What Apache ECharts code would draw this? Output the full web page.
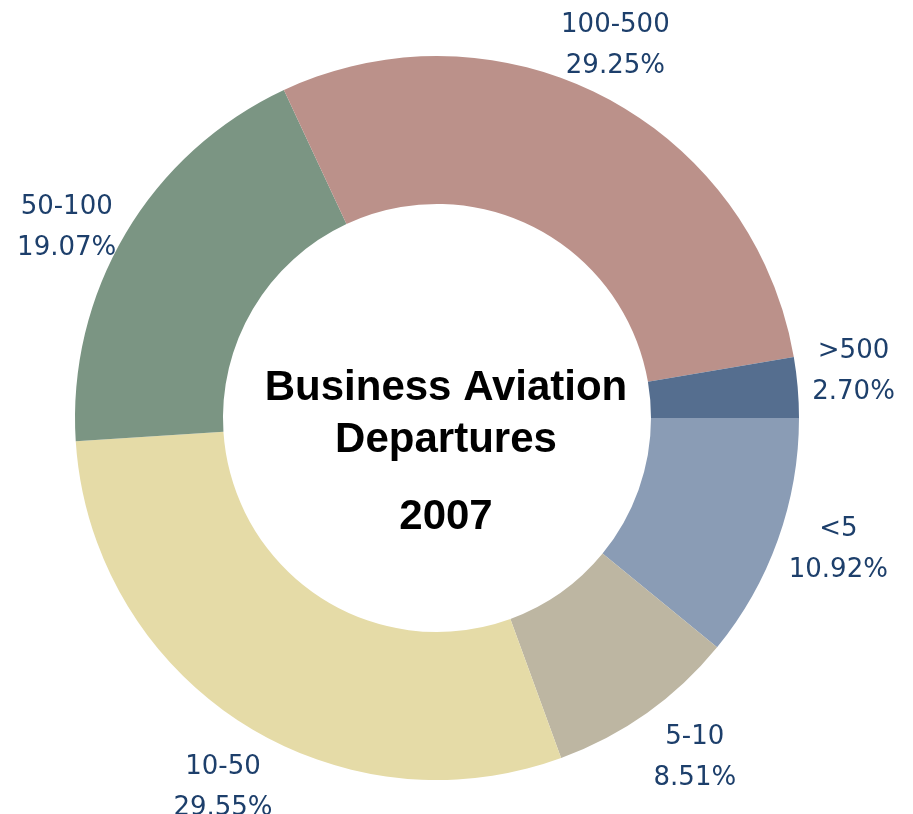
<!DOCTYPE html>
<html>
<head>
<meta charset="utf-8">
<script src="https://cdn.jsdelivr.net/npm/echarts@6/dist/echarts.min.js"></script>
<style>
html,body{margin:0;padding:0;background:#fff;}
#main{width:913px;height:814px;}
</style>
</head>
<body>
<div id="main"></div>
<script>
const categories = ['<5', '5-10', '10-50', '50-100', '100-500', '>500'];
const values = [10.92, 8.51, 29.55, 19.07, 29.25, 2.70];
const colors = ['#8a9cb5', '#bdb6a2', '#e5dba7', '#7b9583', '#bb918a', '#556e8f'];
const titleLines = ['Business Aviation', 'Departures', '2007'];

const CX = 437, CY = 418, R_IN = 214, R_OUT = 362;
const LABEL_R = 420, ANGLE_SHIFT = -2.5, LABEL_DY = 8;

const total = values.reduce((a, b) => a + b, 0);
function midAngle(i) {
  let cum = 0;
  for (let k = 0; k < i; k++) cum += values[k];
  return ((cum + values[i] / 2) / total) * 360 + ANGLE_SHIFT;
}

const titleFont = 'bold 42px "Liberation Sans", Arial, sans-serif';
const chart = echarts.init(document.getElementById('main'), null, {renderer: 'canvas'});
chart.setOption({
  backgroundColor: '#ffffff',
  animation: false,
  graphic: [
    {type: 'text', x: 446, y: 388, style: {text: titleLines[0], textAlign: 'center', textVerticalAlign: 'middle', font: titleFont, fill: '#000'}},
    {type: 'text', x: 446, y: 440, style: {text: titleLines[1], textAlign: 'center', textVerticalAlign: 'middle', font: titleFont, fill: '#000'}},
    {type: 'text', x: 446, y: 517, style: {text: titleLines[2], textAlign: 'center', textVerticalAlign: 'middle', font: titleFont, fill: '#000'}}
  ],
  series: [{
    type: 'pie',
    center: [CX, CY],
    radius: [R_IN, R_OUT],
    startAngle: 0,
    clockwise: true,
    silent: true,
    itemStyle: {borderWidth: 0},
    label: {
      show: true,
      position: 'outside',
      overflow: 'none',
      formatter: p => p.name + '\n' + values[p.dataIndex].toFixed(2) + '%',
      fontFamily: '"DejaVu Sans", sans-serif',
      fontSize: 26,
      lineHeight: 41,
      color: '#1d3f6b'
    },
    labelLine: {show: false},
    labelLayout: function (params) {
      const a = midAngle(params.dataIndex) * Math.PI / 180;
      return {
        x: CX + LABEL_R * Math.cos(a),
        y: CY + LABEL_DY + LABEL_R * Math.sin(a),
        align: 'center',
        verticalAlign: 'middle',
        hideOverlap: false,
        moveOverlap: null
      };
    },
    data: categories.map((c, i) => ({name: c, value: values[i], itemStyle: {color: colors[i]}}))
  }]
});
</script>
</body>
</html>
